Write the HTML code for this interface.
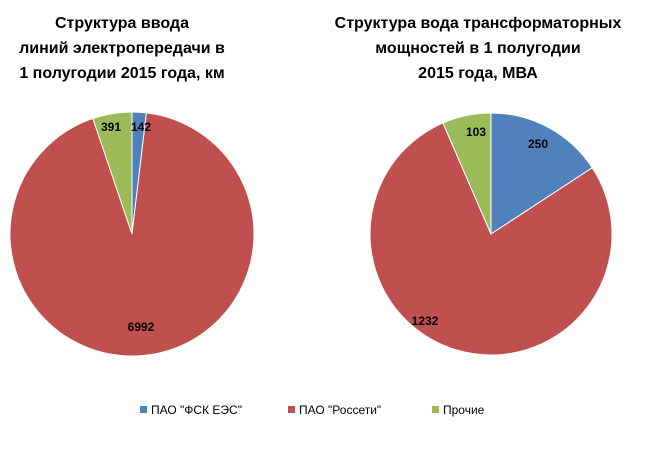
<!DOCTYPE html>
<html><head><meta charset="utf-8"><style>
body{margin:0;background:#fff;}
svg{display:block;font-family:"Liberation Sans",sans-serif;}
</style></head><body>
<svg width="660" height="470" viewBox="0 0 660 470">
<g font-weight="bold" font-size="16" text-anchor="middle" fill="#000">
<text x="122" y="28">Структура ввода</text>
<text x="122" y="53">линий электропередачи в</text>
<text x="122" y="78">1 полугодии 2015 года, км</text>
<text x="478" y="28">Структура вода трансформаторных</text>
<text x="478" y="53">мощностей в 1 полугодии</text>
<text x="478" y="78">2015 года, МВА</text>
</g>
<g stroke="#fff" stroke-width="1">
<path d="M132,234 L132,112 A122,122 0 0 1 146.43,112.86 Z" fill="#4f81bd"/>
<path d="M132,234 L146.43,112.86 A122,122 0 1 1 92.9,118.44 Z" fill="#c0504d"/>
<path d="M132,234 L92.9,118.44 A122,122 0 0 1 132,112 Z" fill="#9bbb59"/>
<path d="M491,234 L491,113 A121,121 0 0 1 592.25,167.74 Z" fill="#4f81bd"/>
<path d="M491,234 L592.25,167.74 A121,121 0 1 1 442.95,122.96 Z" fill="#c0504d"/>
<path d="M491,234 L442.95,122.96 A121,121 0 0 1 491,113 Z" fill="#9bbb59"/>
</g>
<g font-weight="bold" font-size="12" text-anchor="middle" fill="#000">
<text x="141" y="131">142</text>
<text x="111" y="131">391</text>
<text x="141" y="331">6992</text>
<text x="538" y="148">250</text>
<text x="476" y="136">103</text>
<text x="425" y="325">1232</text>
</g>
<g font-size="12" fill="#000">
<rect x="140" y="406" width="7" height="7" fill="#4f81bd"/>
<text x="151" y="414">ПАО "ФСК ЕЭС"</text>
<rect x="288" y="406" width="7" height="7" fill="#c0504d"/>
<text x="299" y="414">ПАО "Россети"</text>
<rect x="432" y="406" width="7" height="7" fill="#9bbb59"/>
<text x="443" y="414">Прочие</text>
</g>
</svg>
</body></html>
